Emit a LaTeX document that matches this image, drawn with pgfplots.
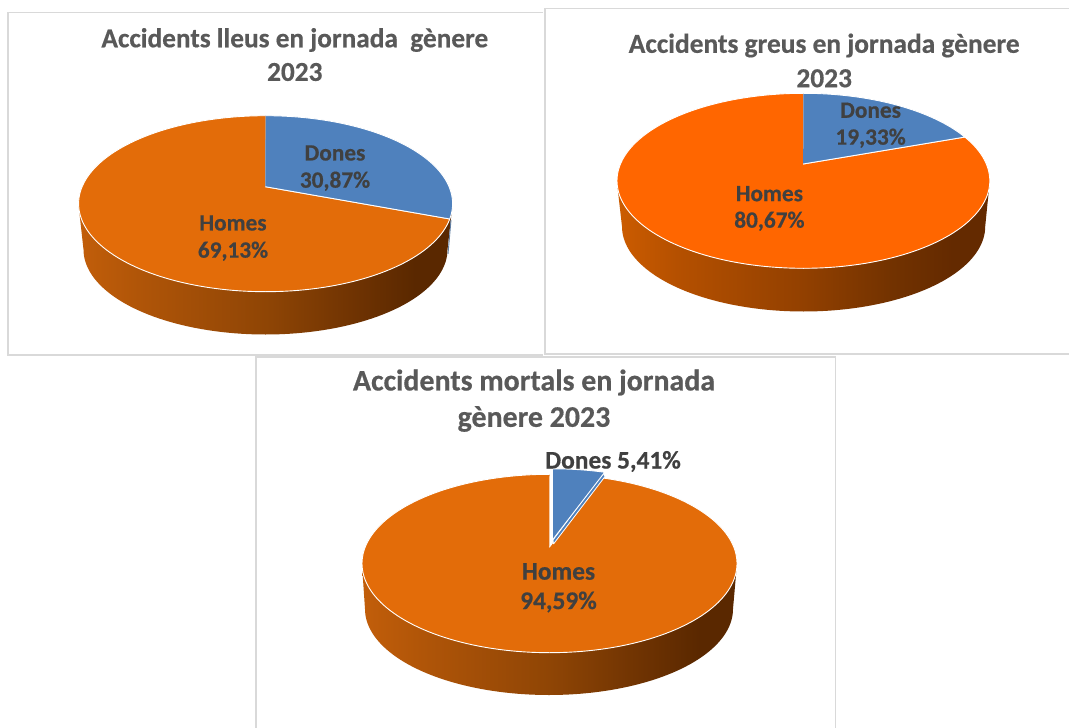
\documentclass[border=0pt]{standalone}
\usepackage{pgfplots}
\pgfplotsset{compat=1.18}
\usepackage{fontspec}
\setmainfont{Carlito}[BoldFeatures={FakeBold=0.5}]
\definecolor{frm}{HTML}{D9D9D9}
\definecolor{blau}{HTML}{4F81BD}
\definecolor{tA}{HTML}{E36C09}
\definecolor{tB}{HTML}{FF6600}
\definecolor{ttl}{HTML}{595959}
\definecolor{lbl}{HTML}{404040}
\definecolor{wa1}{HTML}{C25E0A}\definecolor{wa2}{HTML}{B05508}\definecolor{wa3}{HTML}{8F4505}\definecolor{wa4}{HTML}{6F3302}\definecolor{wa5}{HTML}{5A2800}
\definecolor{wb1}{HTML}{CC5C00}\definecolor{wb2}{HTML}{B55000}\definecolor{wb3}{HTML}{924000}\definecolor{wb4}{HTML}{723200}\definecolor{wb5}{HTML}{642A00}
\pgfdeclarehorizontalshading{wallA}{100bp}{color(0bp)=(wa1); color(25bp)=(wa1); color(33bp)=(wa2); color(50bp)=(wa3); color(62bp)=(wa4); color(70bp)=(wa5); color(100bp)=(wa5)}
\pgfdeclarehorizontalshading{wallB}{100bp}{color(0bp)=(wb1); color(25bp)=(wb1); color(33bp)=(wb2); color(50bp)=(wb3); color(62bp)=(wb4); color(70bp)=(wb5); color(100bp)=(wb5)}
% side wall: #1 shading; #2,#3,#4,#5 top cx,cy,rx,ry; #6,#7,#8,#9 bottom cx,cy,rx,ry
\newcommand\piewall[9]{%
  \addplot[shade,shading=#1,draw=none,domain=90:450,samples=181,variable=\t]
   ({\t<=270 ? #6+#8*sin(\t) : #2+#4*sin(540-\t)},
    {\t<=270 ? #7-#9*cos(\t) : #3-#5*cos(540-\t)});}
% slice: #1 colour; #2,#3 apex; #4,#5,#6,#7 cx,cy,rx,ry; #8,#9 from,to (ellipse parameter, degrees)
\newcommand\pieslice[9]{%
  \addplot[fill=#1,draw=white,line width=0.9pt,line join=round,domain=0:360,samples=181,variable=\t]
   ({(\t<#8 || \t>#9) ? #2 : #4+#6*sin(\t)},
    {(\t<#8 || \t>#9) ? #3 : #5-#7*cos(\t)});}
\newcommand\ttlnode[4]{\node[text=ttl,font=\fontsize{#3}{#3}\selectfont\bfseries,inner sep=0pt] at (axis cs:#1,#2) {#4};}
\newcommand\lblnode[4]{\node[text=lbl,font=\fontsize{#3}{#3}\selectfont\bfseries,inner sep=0pt] at (axis cs:#1,#2) {#4};}
\begin{document}
\begin{tikzpicture}
\path[use as bounding box,fill=white] (0,0) rectangle (1069pt,728pt);
\begin{axis}[at={(0,0)},anchor=south west,scale only axis,width=1069pt,height=728pt,
  xmin=0,xmax=1069,ymin=0,ymax=728,y dir=reverse,hide axis,clip=false,no markers]
% frames
\addplot[frm,line width=1.6pt] coordinates {(543,12.5)(8,12.5)(8,355)(543,355)};
\addplot[frm,line width=1.6pt] coordinates {(1069,8.5)(545,8.5)(545,354)(1069,354)};
\addplot[frm,line width=1.6pt] coordinates {(255.7,728)(255.7,357)(835.5,357)(835.5,728)};
% pie 1: Dones 30,87 / Homes 69,13
\piewall{wallA}{265.6}{203.7}{187}{88}{265.5}{249.5}{182}{85}
\addplot[color=blau!60!gray,line width=0.9pt] coordinates {(451,220)(448,254)};
\pieslice{tA}{265.3}{186.7}{265.6}{203.7}{187}{88}{100}{360}
\pieslice{blau}{265.3}{186.7}{265.6}{203.7}{187}{88}{0}{100}
\ttlnode{294.8}{40}{27.3}{Accidents lleus en jornada\ \ gènere}
\ttlnode{294.8}{72}{27.3}{2023}
\lblnode{335}{153}{23.3}{Dones}
\lblnode{335}{181.2}{23.3}{30,87\%}
\lblnode{233}{223}{23.3}{Homes}
\lblnode{233}{251.2}{23.3}{69,13\%}
% pie 2: Dones 19,33 / Homes 80,67
\piewall{wallB}{803.4}{180.8}{186.4}{87.5}{803.6}{226.5}{181.6}{85}
\pieslice{tB}{803.2}{164}{803.4}{180.8}{186.4}{87.5}{60}{360}
\pieslice{blau}{803.2}{164}{803.4}{180.8}{186.4}{87.5}{0}{60}
\ttlnode{824.2}{45.5}{27.4}{Accidents greus en jornada gènere}
\ttlnode{824.2}{78.3}{27.4}{2023}
\lblnode{870.6}{110.3}{23.3}{Dones}
\lblnode{870.6}{138.2}{23.3}{19,33\%}
\lblnode{769.4}{193.7}{23.3}{Homes}
\lblnode{769.4}{221.2}{23.3}{80,67\%}
% pie 3: Dones 5,41 / Homes 94,59
\piewall{wallA}{549.5}{563.5}{187.5}{89.2}{549}{609}{184}{86}
\pieslice{tA}{549.3}{547.3}{549.5}{563.5}{187.5}{89.2}{16}{360}
\addplot[fill=blau,draw=white,line width=0.8pt] coordinates {(553.5,544)(605,476.5)(603,473)(553,540)(553.5,544)};
\pieslice{blau}{553}{539.3}{553}{558}{187.5}{89.2}{0}{16}
\ttlnode{534}{382.5}{29.9}{Accidents mortals en jornada}
\ttlnode{534}{419}{29.9}{gènere 2023}
\lblnode{613}{461.5}{25.4}{Dones 5,41\%}
\lblnode{558.5}{571.5}{25.4}{Homes}
\lblnode{558.5}{602}{25.4}{94,59\%}
\end{axis}
\end{tikzpicture}
\end{document}
